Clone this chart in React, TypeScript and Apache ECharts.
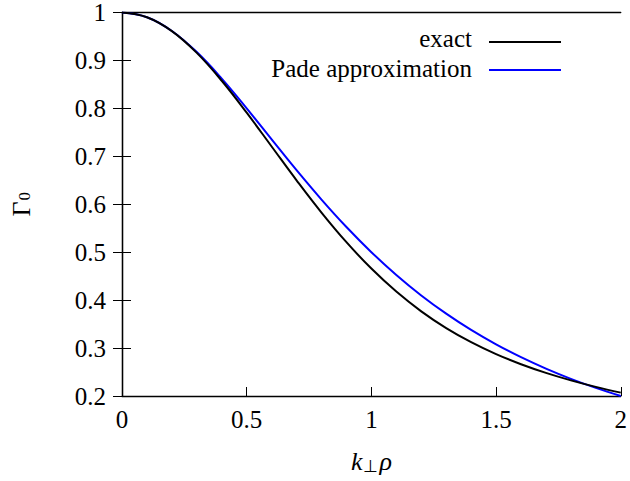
import React, { useEffect, useRef } from "react";
import * as echarts from "echarts";

// k_perp * rho values
const kValues = [0, 0.1, 0.2, 0.3, 0.4, 0.5, 0.6, 0.7, 0.8, 0.9, 1.0, 1.1, 1.2, 1.3, 1.4, 1.5, 1.6, 1.7, 1.8, 1.9, 2.0];
// exact Gamma_0
const exactValues = [1.0, 0.9901, 0.9612, 0.9158, 0.8576, 0.791, 0.7205, 0.65, 0.5827, 0.5209, 0.4658, 0.4178, 0.3766, 0.3417, 0.3123, 0.2874, 0.2663, 0.2482, 0.2326, 0.219, 0.207];
// Pade approximation
const padeValues = [1.0, 0.9901, 0.9615, 0.9174, 0.8621, 0.8, 0.7353, 0.6711, 0.6098, 0.5525, 0.5, 0.4525, 0.4098, 0.3717, 0.3378, 0.3077, 0.2809, 0.2571, 0.2358, 0.2169, 0.2];

const seriesNames = ["exact", "Pade approximation"];
const seriesColors = ["#000000", "#0000ff"];
const xTicks = { min: 0, max: 2, interval: 0.5 };
const yTicks = { min: 0.2, max: 1, interval: 0.1 };

const FONT = "Liberation Serif";

export default function App() {
  const ref = useRef<HTMLDivElement>(null);
  useEffect(() => {
    if (!ref.current) return;
    const chart = echarts.init(ref.current, undefined, { renderer: "svg" });
    const axisLine = { show: true, lineStyle: { color: "#000", width: 1.3 } };
    const axisTick = { show: true, inside: true, length: 9, lineStyle: { color: "#000", width: 1 } };
    const fmt = (v: number) => String(Number(v.toFixed(2)));
    const pair = (ys: number[]) => kValues.map((k, i) => [k, ys[i]]);
    chart.setOption({
      animation: false,
      backgroundColor: "#ffffff",
      textStyle: { fontFamily: FONT, color: "#000" },
      grid: { left: 119, right: 1, top: 11, bottom: 85, containLabel: false },
      xAxis: [
        {
          type: "value", ...xTicks, position: "bottom",
          axisLine, axisTick, splitLine: { show: false },
          axisLabel: { formatter: fmt, fontFamily: FONT, fontSize: 25, color: "#000", margin: 11 },
          name: "{i|k}{s|⊥}{i|ρ}",
          nameLocation: "middle",
          nameGap: 52,
          nameTextStyle: {
            fontFamily: FONT,
            rich: {
              i: { fontFamily: FONT, fontStyle: "italic", fontSize: 26, color: "#000", verticalAlign: "top", lineHeight: 28 },
              s: { fontFamily: FONT, fontSize: 17, color: "#000", verticalAlign: "top", lineHeight: 18, padding: [10, 1, 0, 1] },
            },
          },
        },
        {
          type: "value", ...xTicks, position: "top",
          axisLine, axisTick: { show: false }, splitLine: { show: false }, axisLabel: { show: false },
        },
      ],
      yAxis: [
        {
          type: "value", ...yTicks, position: "left",
          axisLine, axisTick, splitLine: { show: false },
          axisLabel: { formatter: fmt, fontFamily: FONT, fontSize: 25, color: "#000", margin: 16 },
          name: "{g|Γ}{s|0}",
          nameLocation: "middle",
          nameRotate: 90,
          nameGap: 86,
          nameTextStyle: {
            fontFamily: FONT,
            rich: {
              g: { fontFamily: FONT, fontSize: 26, color: "#000", verticalAlign: "top", lineHeight: 28 },
              s: { fontFamily: FONT, fontSize: 17, color: "#000", verticalAlign: "top", lineHeight: 18, padding: [8, 0, 0, 1] },
            },
          },
        },
        {
          type: "value", ...yTicks, position: "right",
          axisLine, axisTick, splitLine: { show: false }, axisLabel: { show: false },
        },
      ],
      series: [
        {
          name: seriesNames[0], type: "line", data: pair(exactValues), showSymbol: false,
          smooth: 0.4,
          lineStyle: { color: seriesColors[0], width: 2 }, z: 3,
        },
        {
          name: seriesNames[1], type: "line", data: pair(padeValues), showSymbol: false,
          smooth: 0.4,
          lineStyle: { color: seriesColors[1], width: 2 }, z: 2,
        },
      ],
      graphic: [
        { type: "text", right: 630 - 472, top: 26, style: { text: seriesNames[0], fontFamily: FONT, fontSize: 25, fill: "#000", textAlign: "right" } },
        { type: "line", shape: { x1: 489, y1: 42, x2: 561, y2: 42 }, style: { stroke: seriesColors[0], lineWidth: 2 } },
        { type: "text", right: 630 - 472, top: 56, style: { text: seriesNames[1], fontFamily: FONT, fontSize: 25, fill: "#000", textAlign: "right" } },
        { type: "line", shape: { x1: 489, y1: 70, x2: 561, y2: 70 }, style: { stroke: seriesColors[1], lineWidth: 2 } },
      ],
    });
    return () => chart.dispose();
  }, []);
  return (
    <div
      ref={ref}
      style={{ position: "fixed", left: 0, top: 0, width: 630, height: 481, background: "#fff" }}
    />
  );
}
